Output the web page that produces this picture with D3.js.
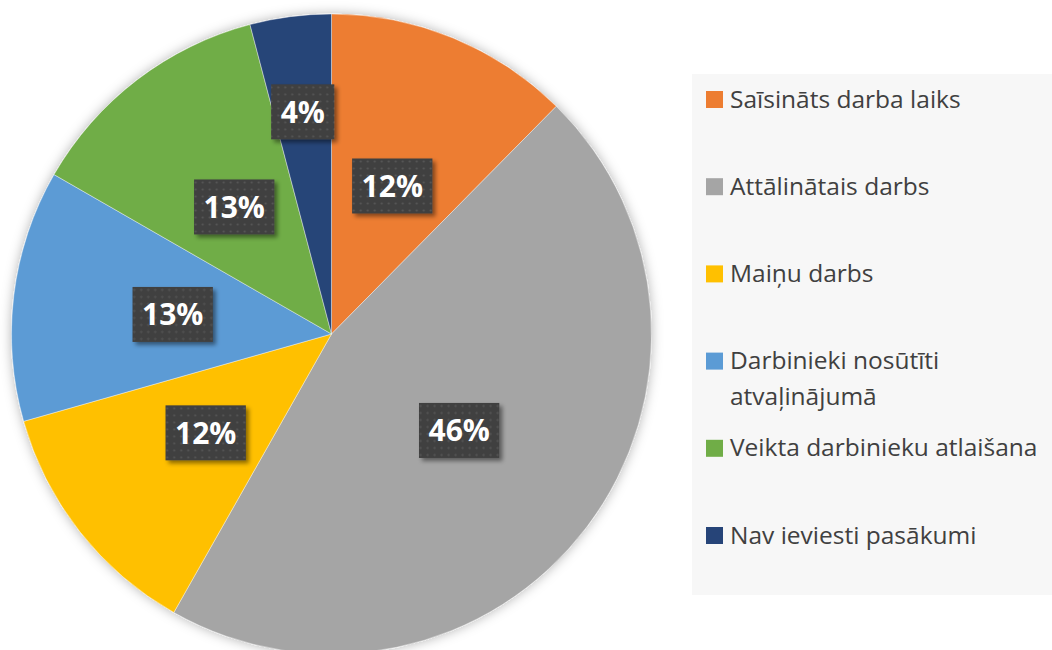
<!DOCTYPE html>
<html>
<head>
<meta charset="utf-8">
<script src="https://cdn.jsdelivr.net/npm/d3@7"></script>
<style>
    body { margin: 0; background: #fff; }
    #chart { width: 1052px; height: 650px; }
    text { font-family: "Open Sans", "Noto Sans", sans-serif; }
</style>
</head>
<body>
<div id="chart"></div>
<script>
//Datos (porcentajes)
const categories = ['Saīsināts darba laiks', 'Attālinātais darbs', 'Maiņu darbs', 'Darbinieki nosūtīti atvaļinājumā', 'Veikta darbinieku atlaišana', 'Nav ieviesti pasākumi'];
const values = [12.4, 45.8, 12.4, 12.7, 12.6, 4.1];

//Colores fijos
const COLORS = ['#ED7D31', '#A5A5A5', '#FFC000', '#5B9BD5', '#70AD47', '#264478'],
TEXT_COLOR = '#404040';

let width = 1052, height = 650;
let cx = 331.5, cy = 334, radius = 320;

let svg = d3.select('#chart')
    .append('svg')
    .attr('width', width)
    .attr('height', height);

let defs = svg.append('defs');

//Sombra del pie
let glow = defs.append('filter').attr('id', 'pieGlow').attr('x', '-10%').attr('y', '-10%').attr('width', '120%').attr('height', '120%');
glow.append('feGaussianBlur').attr('in', 'SourceAlpha').attr('stdDeviation', 6).attr('result', 'blur');
glow.append('feFlood').attr('flood-color', '#000').attr('flood-opacity', 0.3);
glow.append('feComposite').attr('in2', 'blur').attr('operator', 'in').attr('result', 'shadow');
let gm = glow.append('feMerge');
gm.append('feMergeNode').attr('in', 'shadow');
gm.append('feMergeNode').attr('in', 'SourceGraphic');

//Sombra de las etiquetas
let ls = defs.append('filter').attr('id', 'labelShadow').attr('x', '-20%').attr('y', '-20%').attr('width', '150%').attr('height', '160%');
ls.append('feDropShadow').attr('dx', 3).attr('dy', 3).attr('stdDeviation', 2).attr('flood-color', '#000').attr('flood-opacity', 0.45);

//Textura de puntos
let pat = defs.append('pattern').attr('id', 'dots').attr('patternUnits', 'userSpaceOnUse').attr('width', 7).attr('height', 7);
pat.append('rect').attr('width', 7).attr('height', 7).attr('fill', '#404040');
pat.append('circle').attr('cx', 3.5).attr('cy', 3.5).attr('r', 1.1).attr('fill', '#575757');

//Fondo de la leyenda
svg.append('rect')
    .attr('x', 692).attr('y', 74)
    .attr('width', width - 692).attr('height', 595 - 74)
    .attr('fill', '#F7F7F7');

//Pie
let total = d3.sum(values);
let data = categories.map(function(d, i) { return { name: d, value: values[i], color: COLORS[i] }; });

let pie = d3.pie().sort(null).value(function(d) { return d.value; });
let arc = d3.arc().innerRadius(0).outerRadius(radius);
let arcs = pie(data);

let g = svg.append('g').attr('transform', 'translate(' + cx + ',' + cy + ')');

g.append('g')
    .attr('filter', 'url(#pieGlow)')
    .selectAll('path')
    .data(arcs)
    .enter()
    .append('path')
    .attr('d', arc)
    .attr('fill', function(d) { return d.data.color; })
    .attr('stroke', '#ffffff')
    .attr('stroke-width', 0.4);

//Etiquetas
let fmt = d3.format('.0%');
let labels = g.selectAll('.label')
    .data(arcs)
    .enter()
    .append('g')
    .attr('class', 'label')
    .attr('transform', function(d) {
        //Las porciones pequeñas llevan la etiqueta más afuera
        let share = d.data.value / total;
        let r = share < 0.06 ? radius * 0.7 : radius * 0.5;
        let a = (d.startAngle + d.endAngle) / 2;
        return 'translate(' + (Math.sin(a) * r) + ',' + (-Math.cos(a) * r) + ')';
    });

labels.append('rect').attr('class', 'box');
labels.append('text')
    .attr('text-anchor', 'middle')
    .attr('dy', '0.36em')
    .attr('fill', '#fff')
    .style('font-size', '30px')
    .style('font-weight', 'bold')
    .text(function(d) { return fmt(d.data.value / total); });

labels.each(function() {
    let el = d3.select(this);
    let w = el.select('text').node().getComputedTextLength() + 19;
    el.select('rect')
        .attr('x', -w / 2).attr('y', -27.5)
        .attr('width', w).attr('height', 55)
        .attr('fill', 'url(#dots)')
        .attr('filter', 'url(#labelShadow)');
});

//Leyenda
let legend = svg.append('g');
let step = 87.2;

let items = legend.selectAll('.item')
    .data(data)
    .enter()
    .append('g')
    .attr('class', 'item')
    .attr('transform', function(d, i) { return 'translate(706,' + (91 + i * step) + ')'; });

items.append('rect')
    .attr('width', 17).attr('height', 17)
    .attr('fill', function(d) { return d.color; });

items.append('text')
    .attr('x', 24)
    .attr('y', 16.5)
    .attr('fill', TEXT_COLOR)
    .style('font-size', '24.5px')
    .text(function(d) { return d.name; })
    .each(function() { wrap(d3.select(this), 335); });

function wrap(text, maxWidth) {
    let words = text.text().split(' ');
    let x = text.attr('x'), y = text.attr('y');
    text.text(null);
    let line = [];
    let tspan = text.append('tspan').attr('x', x).attr('y', y);
    let lineNo = 0;
    words.forEach(function(w) {
        line.push(w);
        tspan.text(line.join(' '));
        if (tspan.node().getComputedTextLength() > maxWidth && line.length > 1) {
            line.pop();
            tspan.text(line.join(' '));
            line = [w];
            lineNo++;
            tspan = text.append('tspan').attr('x', x).attr('y', +y + lineNo * 36).text(w);
        }
    });
}
</script>
</body>
</html>
